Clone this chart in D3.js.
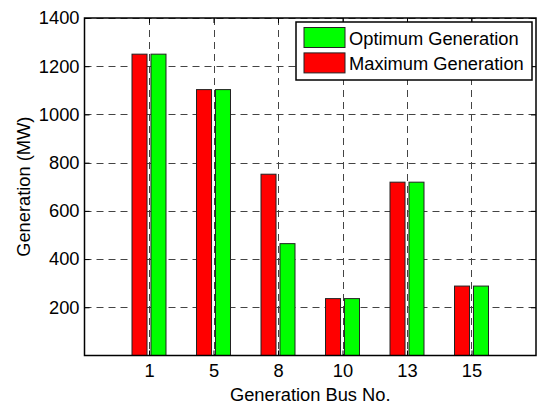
<!DOCTYPE html>
<html>
<head>
<meta charset="utf-8">
<script src="https://cdn.jsdelivr.net/npm/d3@7"></script>
<style>
  html, body { margin: 0; padding: 0; background: #fff; }
  svg { display: block; font-family: "Liberation Sans", Arial, Helvetica, sans-serif; }
</style>
</head>
<body>
<svg id="chart" width="537" height="406"></svg>
<script>
// ---- data ----
const categories = ["1", "5", "8", "10", "13", "15"];
const maximumGeneration = [1250, 1103, 752, 236, 719, 288];
const optimumGeneration = [1250, 1103, 464, 236, 719, 288];
const yTicks = [200, 400, 600, 800, 1000, 1200, 1400];
const seriesNames = ["Maximum Generation", "Optimum Generation"];
const seriesColors = ["#ff0000", "#00ff00"];

// ---- layout ----
const W = 537, H = 406;
const plot = { left: 84.5, right: 536, top: 18, bottom: 355.5 };
const fontSize = 18.3;

const svg = d3.select("#chart");

const x = d3.scaleLinear().domain([0, categories.length + 1]).range([plot.left, plot.right]);
const y = d3.scaleLinear().domain([0, 1400]).range([plot.bottom, plot.top]);

const barW = 0.233;   // in category units
const offsets = [-0.147, 0.147];

// background
svg.append("rect").attr("x", 0).attr("y", 0).attr("width", W).attr("height", H).attr("fill", "#fff");

// grid
const grid = svg.append("g").attr("stroke", "#444").attr("stroke-width", 1).attr("stroke-dasharray", "7,5");
grid.selectAll("line.gy").data(yTicks).join("line").attr("class", "gy")
  .attr("x1", plot.left).attr("x2", plot.right)
  .attr("y1", d => Math.round(y(d)) + 0.5).attr("y2", d => Math.round(y(d)) + 0.5);
grid.selectAll("line.gx").data(categories).join("line").attr("class", "gx")
  .attr("x1", (d, i) => Math.round(x(i + 1)) + 0.5).attr("x2", (d, i) => Math.round(x(i + 1)) + 0.5)
  .attr("y1", plot.top).attr("y2", plot.bottom);

// bars
const series = [maximumGeneration, optimumGeneration];
series.forEach((vals, s) => {
  svg.append("g").selectAll("rect").data(vals).join("rect")
    .attr("x", (d, i) => x(i + 1 + offsets[s] - barW / 2))
    .attr("width", x(barW) - x(0))
    .attr("y", d => y(d))
    .attr("height", d => y(0) - y(d))
    .attr("fill", seriesColors[s])
    .attr("stroke", "#222")
    .attr("stroke-width", 1);
});

// axes box
svg.append("rect").attr("x", plot.left).attr("y", plot.top)
  .attr("width", plot.right - plot.left).attr("height", plot.bottom - plot.top)
  .attr("fill", "none").attr("stroke", "#000").attr("stroke-width", 1.5);

// y axis
const yAxis = d3.axisLeft(y).tickValues(yTicks).tickSize(-5).tickPadding(5).tickFormat(d3.format("d"));
const gy = svg.append("g").attr("transform", `translate(${plot.left},0)`).call(yAxis);
gy.select(".domain").remove();
gy.selectAll("text").attr("font-size", fontSize).attr("fill", "#000").attr("font-family", null);
gy.selectAll("line").attr("stroke", "#000");

const yAxisR = d3.axisRight(y).tickValues(yTicks).tickSize(-5).tickFormat("");
const gyr = svg.append("g").attr("transform", `translate(${plot.right},0)`).call(yAxisR);
gyr.select(".domain").remove();
gyr.selectAll("line").attr("stroke", "#000");

// x axis
const xAxis = d3.axisBottom(x).tickValues(categories.map((d, i) => i + 1))
  .tickFormat((d, i) => categories[i]).tickSize(-5).tickPadding(9);
const gx = svg.append("g").attr("transform", `translate(0,${plot.bottom})`).call(xAxis);
gx.select(".domain").remove();
gx.selectAll("text").attr("font-size", fontSize).attr("fill", "#000").attr("font-family", null);
gx.selectAll("line").attr("stroke", "#000");

const xAxisT = d3.axisTop(x).tickValues(categories.map((d, i) => i + 1)).tickSize(-5).tickFormat("");
const gxt = svg.append("g").attr("transform", `translate(0,${plot.top})`).call(xAxisT);
gxt.select(".domain").remove();
gxt.selectAll("line").attr("stroke", "#000");

// axis labels
svg.append("text").attr("x", (plot.left + plot.right) / 2).attr("y", 401)
  .attr("text-anchor", "middle").attr("font-size", fontSize).text("Generation Bus No.");
svg.append("text").attr("transform", `translate(30,${(plot.top + plot.bottom) / 2}) rotate(-90)`)
  .attr("text-anchor", "middle").attr("font-size", fontSize).text("Generation (MW)");

// legend
const lg = svg.append("g");
lg.append("rect").attr("x", 296).attr("y", 22).attr("width", 236).attr("height", 58)
  .attr("fill", "#fff").attr("stroke", "#000").attr("stroke-width", 1.5);
const legendItems = [
  { name: seriesNames[1], color: seriesColors[1] },
  { name: seriesNames[0], color: seriesColors[0] }
];
legendItems.forEach((it, i) => {
  const yy = 27.5 + i * 25.4;
  lg.append("rect").attr("x", 304).attr("y", yy).attr("width", 41).attr("height", 20)
    .attr("fill", it.color).attr("stroke", "#222").attr("stroke-width", 1);
  lg.append("text").attr("x", 349).attr("y", yy + 17.5).attr("font-size", fontSize).text(it.name);
});
</script>
</body>
</html>
